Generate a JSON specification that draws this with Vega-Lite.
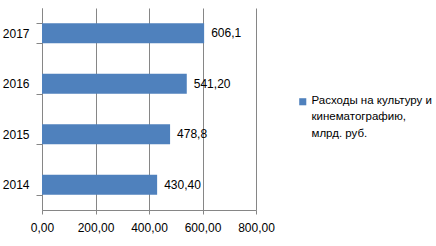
{
  "$schema": "https://vega.github.io/schema/vega-lite/v6.json",
  "width": 214,
  "height": 202,
  "autosize": "none",
  "padding": {"left": 42, "top": 8, "right": 180, "bottom": 36},
  "background": "white",
  "data": {
    "values": [
      {"year": "2014", "value": 430.4, "label": "430,40", "series": "Расходы на культуру и кинематографию, млрд. руб."},
      {"year": "2015", "value": 478.8, "label": "478,8", "series": "Расходы на культуру и кинематографию, млрд. руб."},
      {"year": "2016", "value": 541.2, "label": "541,20", "series": "Расходы на культуру и кинематографию, млрд. руб."},
      {"year": "2017", "value": 606.1, "label": "606,1", "series": "Расходы на культуру и кинематографию, млрд. руб."}
    ]
  },
  "config": {
    "font": "Liberation Sans",
    "view": {"stroke": null},
    "axis": {"labelFont": "Liberation Sans", "labelFontSize": 12, "labelColor": "#000000", "domainColor": "#868686", "tickColor": "#868686", "gridColor": "#868686", "gridOpacity": 1, "domainWidth": 1, "tickWidth": 1, "gridWidth": 1}
  },
  "encoding": {
    "y": {
      "field": "year",
      "type": "ordinal",
      "sort": "descending",
      "scale": {"paddingInner": 0.6, "paddingOuter": 0.3},
      "axis": {"title": null, "tickBand": "extent", "tickSize": 6, "labelPadding": 7, "grid": false, "labelFontSize": 12}
    },
    "x": {
      "field": "value",
      "type": "quantitative",
      "scale": {"domain": [0, 800], "nice": false},
      "axis": {"title": null, "values": [0, 200, 400, 600, 800], "tickSize": 4, "labelPadding": 8, "grid": true, "labelExpr": "replace(format(datum.value, '.2f'), '.', ',')", "labelFlush": false}
    }
  },
  "layer": [
    {
      "mark": {"type": "bar", "color": "#4F81BD"},
      "encoding": {
        "color": {
          "field": "series",
          "type": "nominal",
          "scale": {"range": ["#4F81BD"]},
          "legend": {
            "title": null,
            "orient": "none",
            "legendX": 255,
            "legendY": 88,
            "symbolType": "square",
            "symbolSize": 50,
            "symbolStrokeWidth": 0,
            "labelFont": "Liberation Sans",
            "labelFontSize": 11.5,
            "labelColor": "#000000",
            "labelBaseline": "top",
            "labelOffset": 3,
            "labelLimit": 300,
            "labelExpr": "['Расходы на культуру и', 'кинематографию,', 'млрд. руб.']",
            "encode": {"labels": {"update": {"dy": {"value": -7}, "lineHeight": {"value": 16.5}}}}
          }
        }
      }
    },
    {
      "mark": {"type": "text", "align": "left", "baseline": "middle", "dx": 7, "fontSize": 12, "font": "Liberation Sans", "color": "#000000"},
      "encoding": {"text": {"field": "label"}}
    }
  ]
}
